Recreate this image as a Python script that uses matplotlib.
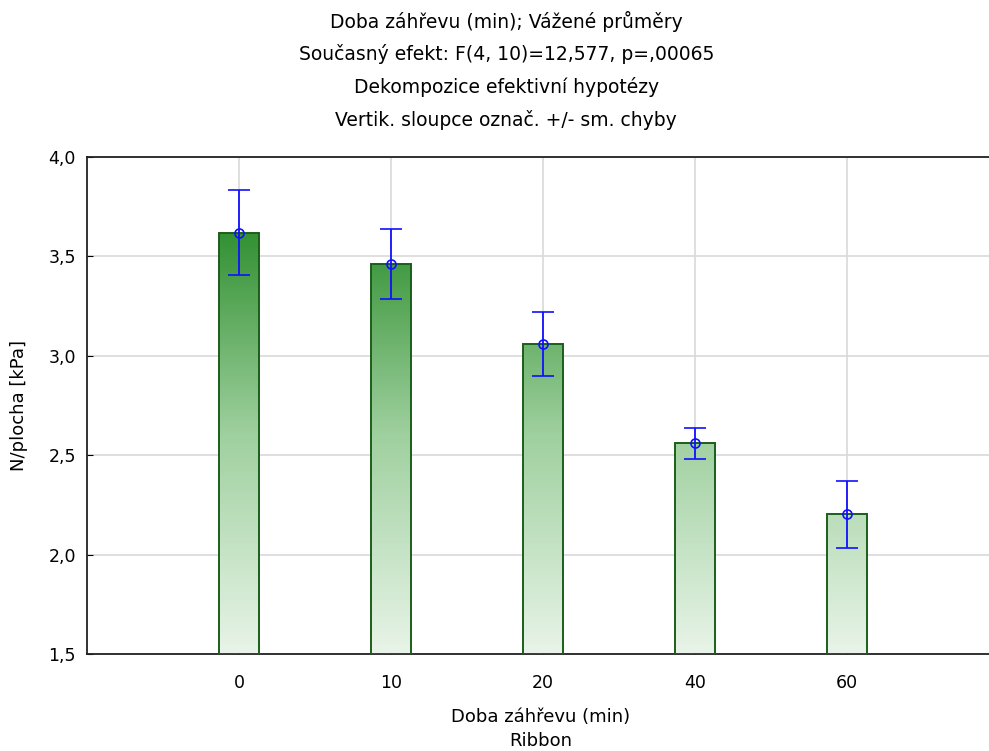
import numpy as np
import matplotlib
matplotlib.use("Agg")
import matplotlib.pyplot as plt
from matplotlib.colors import LinearSegmentedColormap
from matplotlib.patches import Rectangle

# data
categories = ["0", "10", "20", "40", "60"]
means = [3.618, 3.462, 3.058, 2.561, 2.204]
sem = [0.214, 0.176, 0.161, 0.078, 0.168]

title_lines = [
    "Doba záhřevu (min); Vážené průměry",
    "Současný efekt: F(4, 10)=12,577, p=,00065",
    "Dekompozice efektivní hypotézy",
    "Vertik. sloupce označ. +/- sm. chyby",
]

plt.rcParams['font.family'] = ['DejaVu Sans']

fig = plt.figure(figsize=(9.89, 7.51), dpi=100)
ax = fig.add_axes([0.088, 0.129, 0.922, 0.662])

ymin, ymax = 1.5, 4.0
x = np.arange(len(categories))
width = 0.26

cmap = LinearSegmentedColormap.from_list("grn", ["#e8f4e8", "#9fd09f", "#2a8c2a"])
grad = np.linspace(0, 1, 256).reshape(-1, 1)

ax.set_xlim(-1, 5)
ax.set_ylim(ymin, ymax)

# bars with a vertical green gradient clipped to each bar
for xi, m in zip(x, means):
    img = ax.imshow(grad, cmap=cmap, origin="lower", aspect="auto",
                    extent=[xi - width / 2, xi + width / 2, ymin, 3.7], zorder=2)
    rect = Rectangle((xi - width / 2, ymin), width, m - ymin,
                     facecolor="none", edgecolor="#1b5e1b", linewidth=1.4, zorder=3)
    ax.add_patch(rect)
    img.set_clip_path(rect)

ax.errorbar(x, means, yerr=sem, fmt="o", color="#1010ff", ecolor="#1010ff",
            markerfacecolor="none", markersize=6.5, markeredgewidth=1.2,
            elinewidth=1.3, capsize=8, capthick=1.3, zorder=4)

ax.set_xticks(x)
ax.set_xticklabels(categories)
ax.set_yticks(np.arange(1.5, 4.01, 0.5))
ax.set_yticklabels([f"{v:.1f}".replace(".", ",") for v in np.arange(1.5, 4.01, 0.5)])
ax.tick_params(direction="in", length=4, labelsize=12.5, colors="black")
ax.tick_params(axis="x", pad=14)
ax.tick_params(axis="y", pad=8)

ax.grid(True, color="#d9d9d9", linewidth=1.2, zorder=0)
ax.set_axisbelow(True)
for s in ax.spines.values():
    s.set_linewidth(1.3)
    s.set_color("#222222")

ax.set_ylabel("N/plocha [kPa]", fontsize=13, labelpad=15)

fig.text(0.547, 0.045, "Doba záhřevu (min)", ha="center", va="center", fontsize=13)
fig.text(0.547, 0.013, "Ribbon", ha="center", va="center", fontsize=13)

for i, line in enumerate(title_lines):
    fig.text(0.512, 1 - (22 + i * 32.5) / 751, line, ha="center", va="center", fontsize=13.5)

fig.savefig("out.png", dpi=100)
